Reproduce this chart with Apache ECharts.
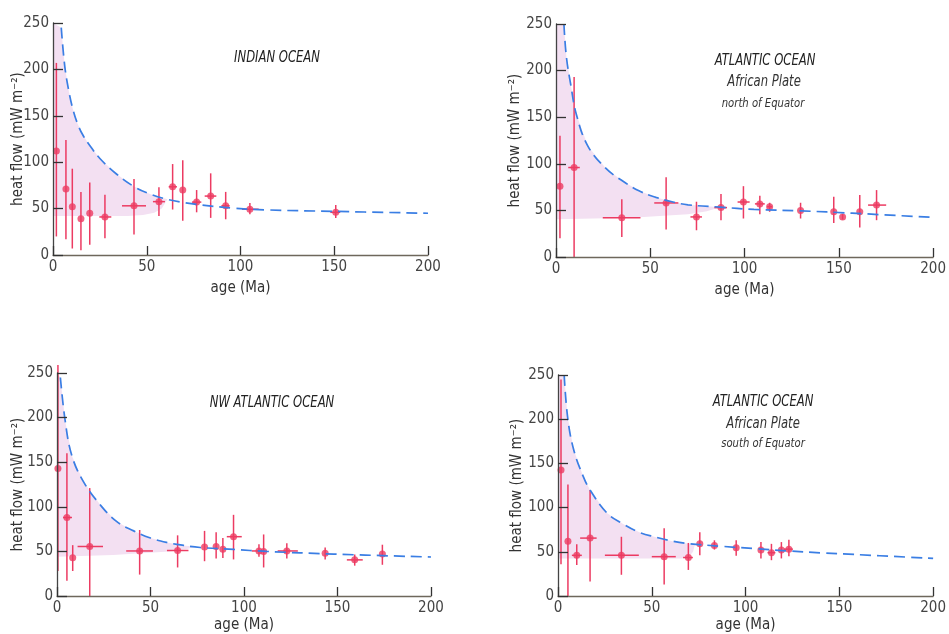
<!DOCTYPE html>
<html>
<head>
<meta charset="utf-8">
<script src="https://cdn.jsdelivr.net/npm/echarts@6/dist/echarts.min.js"></script>
<style>
html,body{margin:0;padding:0;background:#fff;}
#chart{width:949px;height:634px;}
</style>
</head>
<body>
<div id="chart"></div>
<script>
// ---------- DATA ----------
const xTicks = [0, 50, 100, 150, 200];
const yTicks = [0, 50, 100, 150, 200, 250];

// each point: [age, heatFlow, errLow, errHigh, ageLow, ageHigh]
const indianPts = [
  [1.8,112,20,207,null,null],[6.9,71,17,124,null,null],[10.3,52,7,93,null,null],
  [14.9,39,5,68,null,null],[19.6,45,11,78,null,null],[27.7,41,18,65,24.7,31.1],
  [43.2,53,22,82,36.8,49.6],[56.5,57.5,42,73,53.3,59.7],[63.8,73.5,49,98,61.7,66.1],
  [69.2,70,37,102,null,null],[76.6,57,46,70,74.1,79.1],[84.1,63.5,40,88,80.9,87.1],
  [92.1,53,38.5,68,89.8,94.2],[105,49.3,44,56,100.8,109.7],[150.8,46,40,54,147.9,153.2]
];
const indianCurve = [[4.4,245],[6.3,203],[8.5,176],[10.5,158],[13,142],[16,129],[20,117],[25,104],[34,87],[43,74],[52,65.5],[61,60],[70,56.5],[79,54],[96,50.5],[114,48.6],[150,47],[200,45]];
const indianShadeLower = [[0,42],[40,42],[48,43],[54,45.5],[58,50],[61,60]];

const atlNPts = [
  [2.1,76,20,130,null,null],[9.6,96,0,193,6.5,12.6],[34.9,42,21.5,62,24.8,44.8],
  [58.4,58,29.5,85.5,52.1,64.9],[74.5,43,28.7,59.3,71.3,77.4],[87.5,53,39.5,67.5,84,90.7],
  [99.4,59,41.3,76,96.3,102.7],[108.1,57,46,65.7,105.5,110.7],[113.3,54,48.5,58.2,112,114.6],
  [129.7,50,41.3,58.2,null,null],[147.3,48.5,36.6,64.7,null,null],[152,43,40.2,46,null,null],
  [161.1,48.5,31.6,66.5,null,null],[170,55.7,39.5,71.8,165.5,175.1]
];
const atlNCurve = [[4.2,250],[5.5,215],[7.9,184],[10.8,153],[16.9,119],[26.5,95],[35,82],[44,71],[53,64],[61,59.5],[70,56],[87,53.5],[105,51],[130,49.5],[157,47],[200,42.5]];
const atlNShadeLower = [[0,40.5],[40,42],[70,46],[80,49],[87,53.5]];

const nwPts = [
  [0.5,143,28,259,null,null],[5.3,88,17,160,3.2,8],[8.4,43,28,57,null,null],
  [17.5,55.5,0,121,11,24.6],[44.2,50.5,24,74,37,51.3],[64.5,51,32,68,58.8,70.3],
  [78.9,55,39,73,null,null],[85.1,55.5,42,71.5,null,null],[88.7,52.5,42.6,65,null,null],
  [94.4,66.5,41,91,90.8,98.8],[108,50.5,44,58,104.2,111],[110.5,50,32,69,null,null],
  [122.9,50.5,42,59,118,128.8],[143.4,48,41,54.5,null,null],[159.2,40.5,34,46.5,155,163.5],
  [174,47,35,57.5,null,null]
];
const nwCurve = [[1.8,245],[4.4,196],[8,157],[14.2,128],[23.2,102],[32,83.3],[41,73],[50,65],[58.8,60],[67.7,56.7],[76.6,54.4],[94.4,52.2],[112,50],[148,47],[200,43.7]];
const nwShadeLower = [[0,44],[30,46],[60,50],[70,53],[74,55.2]];

const atlSPts = [
  [1.6,142.5,36,245,null,null],[5.3,62,0,126,null,null],[10,46,35,58.5,7.4,12.7],
  [17.1,65.5,16.5,120,11.8,20.6],[33.8,46,24,67,25,43.1],[56.6,44.5,13,76.5,50,62.8],
  [69.5,43.5,29.5,60,66.7,71.9],[75.6,59,46,72,null,null],[83.4,57,52.5,63,null,null],
  [95,54.5,45.5,63,null,null],[108.2,52,42.5,61,null,null],[113.8,49,40.5,59,111.7,115.9],
  [119.1,52,42.5,61,null,null],[123.1,53,45,63.5,120.5,125.2]
];
const atlSCurve = [[3.3,250],[5.1,203],[8.3,166],[13.5,135],[17.1,120],[25.9,94.3],[34.7,81.4],[43.4,72],[52.2,66.6],[61,62],[69.8,59.2],[87.4,56.2],[105,53.6],[122.6,51],[140.2,48.8],[157.8,47],[200,42.5]];
const atlSShadeLower = [[0,42.5],[66,42.5],[70,45],[72,50],[73,58.5]];

const titles = [
  ["INDIAN OCEAN"],
  ["ATLANTIC OCEAN", "African Plate", "north of Equator"],
  ["NW ATLANTIC OCEAN"],
  ["ATLANTIC OCEAN", "African Plate", "south of Equator"]
];
const xName = "age (Ma)";
const yName = "heat flow (mW m\u207B\u00B2)";

// ---------- STYLE / LAYOUT ----------
const FONT = '"Liberation Sans Narrow","DejaVu Sans Condensed","Liberation Sans",sans-serif';
const RED = '#ec3b62';
const BLUE = '#3a7ee4';
const SHADE = '#f3e0f2';

const panels = [
  {pts: indianPts, curve: indianCurve, lower: indianShadeLower, grid:{left:53, top:23, width:375, height:232}, yGap:27, xGap:26, title:[[277,58]]},
  {pts: atlNPts, curve: atlNCurve, lower: atlNShadeLower, grid:{left:556, top:24, width:382, height:233}, yGap:33, xGap:26, title:[[765,61],[764,82],[763,104]]},
  {pts: nwPts, curve: nwCurve, lower: nwShadeLower, grid:{left:57, top:373, width:374, height:225}, yGap:31, xGap:22, title:[[272,403]]},
  {pts: atlSPts, curve: atlSCurve, lower: atlSShadeLower, grid:{left:558, top:375, width:379, height:225}, yGap:33, xGap:22, title:[[763,402],[763,424],[763,444]]}
];

const grids = [], xAxes = [], yAxes = [], series = [], graphics = [];

panels.forEach((p, i) => {
  grids.push(Object.assign({containLabel:false}, p.grid));
  xAxes.push({
    type:'value', gridIndex:i, z:10, min:xTicks[0], max:xTicks[xTicks.length-1], interval:xTicks[1]-xTicks[0],
    name:xName, nameLocation:'middle', nameGap:p.xGap, nameMoveOverlap:false,
    nameTextStyle:{fontFamily:FONT, fontSize:15, color:'#333'},
    axisLine:{show:true, lineStyle:{color:'#6e675c', width:1.3}},
    axisTick:{show:true, inside:true, length:9, lineStyle:{color:'#333', width:1.3}},
    axisLabel:{fontFamily:FONT, fontSize:15, color:'#444', margin:5},
    splitLine:{show:false}
  });
  yAxes.push({
    type:'value', gridIndex:i, z:10, min:yTicks[0], max:yTicks[yTicks.length-1], interval:yTicks[1]-yTicks[0],
    name:yName, nameLocation:'middle', nameGap:p.yGap, nameRotate:90, nameMoveOverlap:false,
    nameTextStyle:{fontFamily:FONT, fontSize:15, color:'#333'},
    axisLine:{show:true, lineStyle:{color:'#444', width:1.3}},
    axisTick:{show:true, inside:true, length:10, lineStyle:{color:'#333', width:1.3}},
    axisLabel:{fontFamily:FONT, fontSize:15, color:'#444', margin:4},
    splitLine:{show:false}
  });

  // shaded region between curve and observed level
  const endX = p.lower[p.lower.length-1][0];
  const upper = [[0, yTicks[yTicks.length-1]]].concat(p.curve.filter(c => c[0] < endX));
  series.push({
    type:'custom', xAxisIndex:i, yAxisIndex:i, z:1, silent:true, clip:true,
    data:[[0,0]],
    renderItem:(params, api) => {
      const poly = [];
      upper.forEach(c => poly.push(api.coord(c)));
      p.lower.slice().reverse().forEach(c => poly.push(api.coord(c)));
      return {type:'polygon', shape:{points:poly}, style:{fill:SHADE}};
    }
  });

  // theoretical curve
  series.push({
    type:'line', xAxisIndex:i, yAxisIndex:i, z:6, silent:true,
    data:p.curve, smooth:0.4, showSymbol:false, symbol:'none',
    lineStyle:{color:BLUE, width:1.7, type:[11,6]}
  });

  // error bars
  series.push({
    type:'custom', xAxisIndex:i, yAxisIndex:i, z:4, silent:true, clip:false,
    encode:{x:0, y:1},
    data:p.pts.map(d => [d[0], d[1]]),
    renderItem:(params, api) => {
      const d = p.pts[params.dataIndex];
      const ch = [];
      const a = api.coord([d[0], d[2]]), b = api.coord([d[0], d[3]]);
      ch.push({type:'line', shape:{x1:a[0], y1:a[1], x2:b[0], y2:b[1]}, style:{stroke:RED, lineWidth:1.5}});
      if (d[4] !== null && d[5] !== null) {
        const c = api.coord([d[4], d[1]]), e = api.coord([d[5], d[1]]);
        ch.push({type:'line', shape:{x1:c[0], y1:c[1], x2:e[0], y2:e[1]}, style:{stroke:RED, lineWidth:1.5}});
      }
      return {type:'group', children:ch};
    }
  });

  // data points
  series.push({
    type:'scatter', xAxisIndex:i, yAxisIndex:i, z:5, silent:true,
    data:p.pts.map(d => [d[0], d[1]]), symbol:'circle', symbolSize:7,
    itemStyle:{color:RED}
  });

  // titles
  titles[i].forEach((t, k) => {
    const pos = p.title[k];
    graphics.push({
      type:'text', x:pos[0], y:pos[1], scaleX:0.86, silent:true,
      style:{
        text:t, fill:(k === 0 ? '#222' : '#333'),
        font:'italic ' + (k === 2 ? 13 : 15) + 'px ' + FONT,
        align:'center', verticalAlign:'middle'
      }
    });
  });
});

const chart = echarts.init(document.getElementById('chart'), null, {renderer:'canvas'});
chart.setOption({
  animation:false,
  backgroundColor:'#fff',
  grid:grids, xAxis:xAxes, yAxis:yAxes, series:series, graphic:graphics
});
</script>
</body>
</html>
